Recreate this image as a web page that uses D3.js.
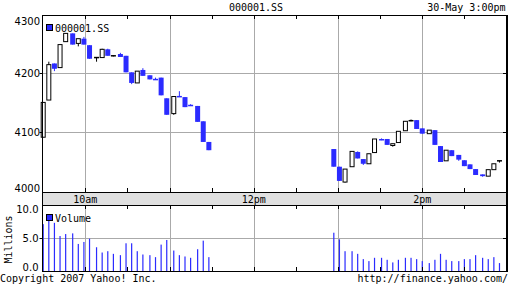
<!DOCTYPE html>
<html><head><meta charset="utf-8">
<script src="https://cdn.jsdelivr.net/npm/d3@7"></script>
<style>body{margin:0;background:#fff}svg{display:block}</style>
</head><body>
<script>
const times = ["9:30","9:34","9:38","9:42","9:46","9:51","9:55","9:59","10:03","10:08","10:12","10:16","10:20","10:25","10:29","10:33","10:37","10:41","10:46","10:50","10:54","10:58","11:03","11:07","11:11","11:15","11:20","11:24","11:28",
  "12:57","13:01","13:05","13:10","13:14","13:18","13:22","13:26","13:31","13:35","13:39","13:43","13:48","13:52","13:56","14:00","14:05","14:09","14:13","14:17","14:21","14:26","14:30","14:34","14:38","14:43","14:47","14:51","14:55"];
const open  = [4092,4155,4217,4210,4254,4268,4251,4259,4248,4227,4227,4241,4230,4233,4230,4202,4184,4206,4197,4191,4193,4158,4132,4162,4160,4147,4145,4119,4084,
  4072,4042,4016,4042,4067,4055,4047,4066,4089,4089,4078,4083,4103,4120,4121,4107,4098,4104,4077,4052,4070,4062,4053,4046,4038,4029,4026,4037,4052];
const high  = [4151,4220,4217,4249,4268,4268,4259,4262,4248,4227,4242,4242,4231,4235,4230,4202,4204,4209,4197,4193,4193,4158,4161,4170,4160,4148,4145,4119,4084,
  4072,4042,4038,4068,4068,4055,4064,4089,4090,4089,4081,4102,4119,4122,4121,4107,4104,4104,4077,4070,4070,4062,4053,4046,4038,4029,4037,4047,4052];
const low   = [4092,4155,4204,4210,4254,4249,4246,4249,4225,4220,4227,4230,4229,4228,4202,4182,4184,4196,4190,4190,4163,4130,4130,4161,4143,4145,4118,4084,4070,
  4042,4018,4015,4042,4056,4045,4047,4066,4087,4079,4076,4083,4103,4119,4106,4098,4098,4079,4050,4052,4060,4052,4043,4038,4028,4025,4026,4037,4049];
const close = [4151,4215,4208,4249,4268,4249,4259,4249,4225,4227,4241,4230,4230,4228,4202,4184,4204,4196,4190,4190,4163,4130,4161,4161,4143,4145,4118,4084,4070,
  4042,4018,4038,4068,4056,4047,4064,4089,4087,4079,4081,4102,4119,4120,4106,4098,4104,4079,4050,4070,4060,4054,4043,4038,4028,4026,4037,4047,4052];
const volume = [7.1,8.0,7.3,5.3,5.6,5.7,4.1,4.4,4.9,3.6,2.8,3.0,2.6,2.4,4.2,4.2,3.0,2.5,2.4,2.1,4.0,4.7,3.1,2.4,2.2,2.0,3.3,4.6,2.1,
  5.8,4.8,3.0,3.0,2.6,1.8,1.5,2.0,2.0,1.7,1.3,1.7,2.0,2.0,1.8,1.5,1.2,1.7,2.6,1.7,1.5,1.5,1.8,1.8,2.4,2.0,1.8,2.1,1.2];
const priceTicks = [4000,4100,4200,4300];
const volumeTicks = [0,5,10];
const volumeTickLabels = ["0.0","5.0","10.0"];
const hourLabels = [["10:00","10am"],["12:00","12pm"],["14:00","2pm"]];
const symbol = "000001.SS";
const stamp = "30-May 3:00pm";

const BLUE = "#2b2bff", GRID = "#aaaaaa";
const MONO = "'DejaVu Sans Mono', monospace", SANS = "'DejaVu Sans', sans-serif";
const parse = d3.timeParse("%H:%M");
const data = times.map((t,i)=>({t:parse(t),o:open[i],h:high[i],l:low[i],c:close[i],v:volume[i]}));

const svg = d3.select("body").append("svg").attr("width",512).attr("height",288);
const x = d3.scaleTime().domain([parse("9:30"),parse("15:00")]).range([43.2,506.5]);
const y = d3.scaleLinear().domain([4000,4300]).range([191.5,14.5]);
const yv = d3.scaleLinear().domain([0,10]).range([271,205]);
const P = {top:15, bot:192}, V = {top:205, bot:271};
const L = 42.5, R = 507;

// band
svg.append("rect").attr("x",L).attr("y",P.bot).attr("width",R-L).attr("height",V.top-P.bot).attr("fill","#e0e0e0");

const hours = d3.timeHour.range(parse("10:00"), parse("15:00"));
const halfs = d3.timeMinute.every(30).range(parse("10:00"), parse("15:00"));
const cx = d => Math.round(x(d))+0.5;
// vertical grid
[[P.top,P.bot],[V.top,V.bot]].forEach(([a,b])=>{
  svg.selectAll(null).data(hours).enter().append("line")
    .attr("x1",cx).attr("x2",cx).attr("y1",a).attr("y2",b).attr("stroke",GRID);
});
// horizontal grid
svg.selectAll(null).data([4100,4200]).enter().append("line")
  .attr("x1",L).attr("x2",R).attr("y1",d=>y(d)).attr("y2",d=>y(d)).attr("stroke",GRID);
svg.append("line").attr("x1",L).attr("x2",R).attr("y1",yv(5)+0.5).attr("y2",yv(5)+0.5).attr("stroke",GRID);

// candles
const g = svg.append("g");
data.forEach(d=>{
  const c = x(d.t);
  const col = d.c<d.o ? BLUE : "#000";
  g.append("line").attr("x1",c).attr("x2",c).attr("y1",y(d.h)).attr("y2",y(d.l)).attr("stroke",col).attr("stroke-width",1);
  if (d.c>d.o) {
    g.append("rect").attr("x",c-2).attr("y",y(d.c)).attr("width",4).attr("height",y(d.o)-y(d.c))
      .attr("fill","#fff").attr("stroke","#000").attr("stroke-width",1);
  } else if (d.c<d.o) {
    const h = Math.max(1.5, y(d.c)-y(d.o));
    g.append("rect").attr("x",c-2.5).attr("y",y(d.o)).attr("width",5).attr("height",h).attr("fill",BLUE);
  } else {
    g.append("line").attr("x1",c-2.5).attr("x2",c+2.5).attr("y1",y(d.o)).attr("y2",y(d.o)).attr("stroke","#000").attr("stroke-width",1.5);
  }
});
// volume bars
svg.selectAll(null).data(data).enter().append("rect")
  .attr("x",d=>x(d.t)-0.6).attr("width",1.2).attr("y",d=>yv(d.v)).attr("height",d=>yv(0)-yv(d.v)).attr("fill",BLUE);

// ticks at half hours
[[P.top,1],[P.bot,-1],[V.top,1],[V.bot,-1]].forEach(([yy,dir])=>{
  svg.selectAll(null).data(halfs).enter().append("line")
    .attr("x1",cx).attr("x2",cx).attr("y1",yy).attr("y2",yy+dir*4).attr("stroke","#000");
});
// y ticks
[[y(4100)],[y(4200)],[yv(5)+0.5]].forEach(([yy])=>{
  svg.append("line").attr("x1",39.5).attr("x2",L).attr("y1",yy).attr("y2",yy).attr("stroke","#000");
  svg.append("line").attr("x1",R-4).attr("x2",R).attr("y1",yy).attr("y2",yy).attr("stroke","#000");
});

// borders
svg.append("line").attr("x1",L).attr("x2",R+1).attr("y1",P.top+0.5).attr("y2",P.top+0.5).attr("stroke","#000");
svg.append("line").attr("x1",L).attr("x2",R+1).attr("y1",P.bot+0.5).attr("y2",P.bot+0.5).attr("stroke","#000");
svg.append("line").attr("x1",L).attr("x2",R+1).attr("y1",V.top+0.5).attr("y2",V.top+0.5).attr("stroke","#000");
svg.append("line").attr("x1",L).attr("x2",R+1).attr("y1",V.bot+0.5).attr("y2",V.bot+0.5).attr("stroke","#000");
svg.append("line").attr("x1",L).attr("x2",L).attr("y1",P.top).attr("y2",V.bot+1).attr("stroke","#000");
svg.append("line").attr("x1",R).attr("x2",R).attr("y1",P.top).attr("y2",V.bot+1).attr("stroke","#000").attr("stroke-width",2);

// texts
const txt = (s,xx,yy,anchor,font,size)=>svg.append("text").attr("x",xx).attr("y",yy).attr("text-anchor",anchor||"start")
  .attr("font-family",font||MONO).attr("font-size",size||10).attr("fill","#000").text(s);
txt(symbol,256,10.5,"middle");
txt(stamp,505.5,10.5,"end");
priceTicks.forEach(p=>{
  const yy = Math.min(Math.max(y(p)+3.4, 25), 191.5);
  txt(String(p),40,yy,"end",SANS,10);
});
volumeTicks.forEach((v,i)=>{
  const yy = Math.min(Math.max(yv(v)+3.6, 213.3), 271);
  txt(volumeTickLabels[i],38.5,yy,"end",SANS,10);
});
hourLabels.forEach(([t,s])=>txt(s,x(parse(t)),203.3,"middle"));
svg.append("text").attr("transform","translate(11.5,239.5) rotate(-90)").attr("text-anchor","middle")
  .attr("font-family",MONO).attr("font-size",10).text("Millions");
// legends
svg.append("rect").attr("x",46.5).attr("y",24.5).attr("width",6).attr("height",6).attr("fill",BLUE).attr("stroke","#000");
txt(symbol,55,32);
svg.append("rect").attr("x",46.5).attr("y",214.5).attr("width",6).attr("height",6).attr("fill",BLUE).attr("stroke","#000");
txt("Volume",55,222.3);
txt("Copyright 2007 Yahoo! Inc.",0,282.3);
txt("http://finance.yahoo.com/",508,282.3,"end");
</script>
</body></html>
